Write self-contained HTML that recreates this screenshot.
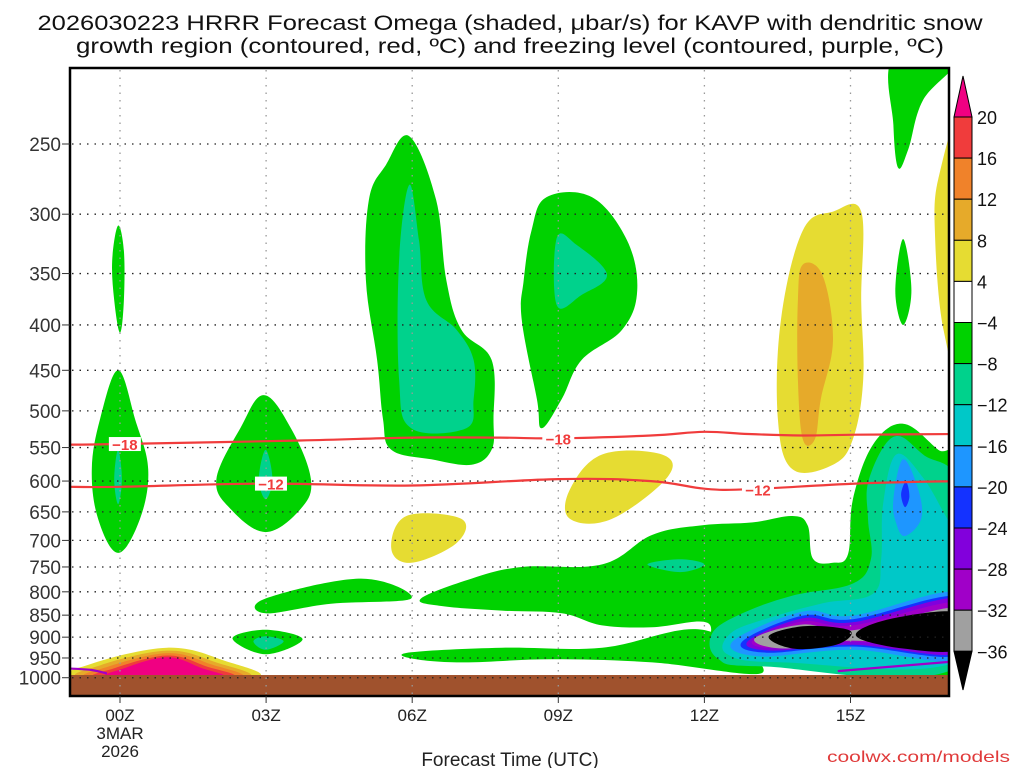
<!DOCTYPE html>
<html><head><meta charset="utf-8">
<style>
html,body{margin:0;padding:0;background:#fff;}
svg{display:block;font-family:"Liberation Sans",sans-serif;}
</style></head>
<body>
<svg id="chart" width="1024" height="768" viewBox="0 0 1024 768" xmlns="http://www.w3.org/2000/svg">
<text x="510" y="30" text-anchor="middle" font-size="21" fill="#111" textLength="945" lengthAdjust="spacingAndGlyphs">2026030223 HRRR Forecast Omega (shaded, μbar/s) for KAVP with dendritic snow</text>
<text x="510" y="53" text-anchor="middle" font-size="21" fill="#111" textLength="868" lengthAdjust="spacingAndGlyphs">growth region (contoured, red, ºC) and freezing level (contoured, purple, ºC)</text>
<defs><clipPath id="plotclip"><rect x="70" y="68" width="879" height="628"/></clipPath></defs>
<g id="shapes" clip-path="url(#plotclip)"></g>
<g id="grid"></g>
<g id="lines" clip-path="url(#plotclip)"></g>
<g id="axes"></g>
<g id="cbar"></g>
<text x="510" y="766" text-anchor="middle" font-size="19" fill="#222">Forecast Time (UTC)</text>
<text x="1010" y="762" text-anchor="end" font-size="16" fill="#e03a3a" textLength="183" lengthAdjust="spacingAndGlyphs">coolwx.com/models</text>
</svg>
<script>
// ---- data ----
const pressureTicks=[250,300,350,400,450,500,550,600,650,700,750,800,850,900,950,1000];
const hourTicks=[0,3,6,9,12,15];
const hourTickLabels=["00Z","03Z","06Z","09Z","12Z","15Z"];
const cbarLevels=[20,16,12,8,4,-4,-8,-12,-16,-20,-24,-28,-32,-36];
const cbarColors=["#f03c3c","#f0822a","#e6aa2a","#e6dc32","#ffffff","#00d200","#00d28c","#00c8c8","#1e96ff","#1432ff","#8200dc","#a000c8","#a0a0a0"];
const C={pink:"#f00082",red:"#f03c3c",orange:"#f0822a",dyel:"#e6aa2a",yel:"#e6dc32",green:"#00d200",teal:"#00d28c",cyan:"#00c8c8",blue:"#1e96ff",dblue:"#1432ff",purp:"#8200dc",purp2:"#a000c8",gray:"#a0a0a0",black:"#000000"};
// omega regions: [hour, hPa] vertices, drawn outer->inner
const regionColors=["green","green","green","green","green","green","green","green","green","green","green",
"teal","teal","teal","teal","teal","teal",
"yel","dyel","yel","yel","yel",
"teal","cyan","blue","dblue","blue","dblue","purp","purp2","gray","black","black",
"yel","dyel","orange","red","pink"];
const regionPoints=[
[[-0.04,309],[0.08,330],[0.08,375],[0,408],[-0.12,375],[-0.16,338]],
[[-0.04,450],[0.31,511],[0.58,582],[0.41,662],[-0.04,723],[-0.45,662],[-0.58,582],[-0.41,511]],
[[2.95,480],[3.51,523],[3.92,597],[3.71,645],[2.99,685],[2.27,645],[1.98,597],[2.47,523]],
[[5.94,245],[6.49,289],[6.70,356],[7.01,405],[7.63,438],[7.67,511],[7.63,553],[7.22,575],[6.39,567],[5.57,553],[5.40,511],[5.28,438],[5.05,356],[5.11,289],[5.46,264]],
[[8.76,287],[9.69,287],[10.41,321],[10.62,366],[10.31,405],[9.48,438],[9.07,485],[8.66,523],[8.56,485],[8.25,395],[8.29,356],[8.45,313]],
[[15.88,200],[17.2,200],[16.49,223],[16.19,253],[15.98,266],[15.88,238]],
[[16.08,320],[16.25,366],[16.08,400],[15.92,366]],
[[2.99,814],[4.95,773],[5.98,814],[4.33,825],[2.99,846]],
[[2.31,903],[2.99,883],[3.75,905],[2.99,941]],
[[6.18,814],[7.22,773],[8.25,750],[9.90,745],[10.93,690],[11.96,673],[12.99,668],[13.81,657],[14.12,673],[14.23,734],[14.64,742],[14.95,725],[15.05,629],[15.46,546],[16.08,517],[16.80,553],[17.3,582],[17.3,976],[15.05,972],[13.19,970],[12.37,956],[12.06,936],[12.06,867],[10.93,877],[9.90,873],[9.07,846],[7.84,840],[6.60,830]],
[[5.98,936],[7.84,925],[9.90,925],[11.96,883],[13.19,987],[10.93,961],[8.87,953],[7.01,961],[5.98,951]],
[[-0.04,553],[0.04,597],[-0.04,637],[-0.12,597]],
[[2.99,553],[3.13,597],[2.99,629],[2.85,597]],
[[5.94,278],[6.14,321],[6.29,375],[6.91,405],[7.26,438],[7.26,485],[7.11,523],[5.98,523],[5.73,461],[5.73,338]],
[[8.97,319],[9.38,325],[10.0,351],[9.48,370],[8.97,380]],
[[2.74,910],[2.99,898],[3.36,910],[2.99,930]],
[[10.83,745],[11.5,735],[12.0,745],[11.5,760]],
[[14.02,313],[14.64,298],[15.22,298],[15.22,375],[15.26,461],[15.05,538],[14.64,575],[13.81,582],[13.51,511],[13.57,395]],
[[14.02,342],[14.43,352],[14.64,416],[14.39,485],[14.27,538],[14.02,538],[13.92,461],[13.92,375]],
[[17.3,238],[17.3,451],[16.91,405],[16.74,321],[16.80,274]],
[[9.90,560],[11.13,560],[11.24,594],[10.10,662],[9.24,662],[9.24,613]],
[[5.88,657],[7.01,662],[6.91,705],[5.98,742],[5.57,715]],
[[15.38,597],[15.88,535],[16.49,560],[17.3,621],[17.3,963],[13.20,971],[12.27,951],[12.16,891],[12.78,846],[13.81,808],[15.05,783],[15.42,734],[15.36,662]],
[[15.67,637],[15.94,560],[16.49,595],[16.99,662],[17.3,700],[17.3,951],[13.61,961],[12.47,941],[12.54,891],[13.30,857],[14.43,824],[15.46,804],[15.63,734]],
[[15.88,629],[16.08,567],[16.39,613],[16.45,662],[16.12,692],[15.94,670]],
[[16.14,601],[16.21,624],[16.12,642],[16.04,621]],
[[12.58,910],[14.02,842],[15.05,851],[17.3,802],[17.3,951],[15.05,930],[13.13,946]],
[[12.78,910],[14.02,851],[15.05,859],[17.3,810],[17.3,941],[15.05,922],[13.28,937]],
[[12.89,910],[14.02,857],[15.05,866],[17.3,814],[17.3,937],[15.05,918],[13.40,932]],
[[12.99,908],[14.02,864],[15.05,873],[17.3,822],[17.3,930],[15.05,911],[13.51,927]],
[[13.03,903],[14.02,871],[15.05,884],[17.3,833],[17.3,927],[15.05,908],[13.61,927]],
[[13.32,898],[14.02,875],[14.85,880],[15.01,896],[14.64,920],[13.81,927]],
[[15.11,896],[15.88,857],[17.3,846],[17.3,927],[16.08,927]],
[[-0.87,1000],[-0.6,965],[0.97,925],[2.1,955],[2.72,1000]],
[[-0.7,1000],[-0.4,968],[0.97,932],[1.95,960],[2.55,1000]],
[[-0.55,1000],[-0.25,972],[0.97,938],[1.85,965],[2.4,1000]],
[[-0.4,1000],[-0.1,975],[0.97,944],[1.75,970],[2.25,1000]],
[[-0.2,1000],[0.1,975],[0.97,948],[1.65,974],[2.05,1000]]
];
const dgzHours=[-1.1,0,3.7,6,7.8,9,10.9,12,12.9,14,15.1,17.2];
const minus18Press=[546,545,540,536,536,537,533,528,531,533,532,531];
const minus12Hours=[-1.1,0,3,6,9,10.9,12,12.9,15.1,17.2];
const minus12Press=[609,609,604,607,597,600,612,613,604,600];
const frzHoursA=[-1.1,-0.6,-0.27];
const frzPressA=[976,980,989];
const frzHoursB=[14.74,16,17.2];
const frzPressB=[983,970,958];
const groundPress=993;

// ---- axes ----
const xs=h=>120+48.7*h;
const ys=p=>144+385*Math.log(p/250);
const NS="http://www.w3.org/2000/svg";
function mk(tag,attrs,parent){const e=document.createElementNS(NS,tag);for(const k in attrs)e.setAttribute(k,attrs[k]);parent.appendChild(e);return e;}
function smoothPath(pts,closed){
  const P=pts.map(q=>[xs(q[0]),ys(q[1])]);const n=P.length;let d="M"+P[0][0].toFixed(1)+","+P[0][1].toFixed(1);
  const last=closed?n:n-1;
  for(let i=0;i<last;i++){
    const p0=P[(i-1+n)%n],p1=P[i],p2=P[(i+1)%n],p3=P[(i+2)%n];
    const a0=closed||i>0?p0:p1, a3=closed||i+2<n?p3:p2;
    const t=0.18;
    const c1=[p1[0]+(p2[0]-a0[0])*t,p1[1]+(p2[1]-a0[1])*t];
    const c2=[p2[0]-(a3[0]-p1[0])*t,p2[1]-(a3[1]-p1[1])*t];
    d+="C"+c1[0].toFixed(1)+","+c1[1].toFixed(1)+" "+c2[0].toFixed(1)+","+c2[1].toFixed(1)+" "+p2[0].toFixed(1)+","+p2[1].toFixed(1);
  }
  return d+(closed?"Z":"");
}
const gS=document.getElementById("shapes");
regionPoints.forEach((pts,i)=>{
  const el=mk("path",{d:smoothPath(pts,true),fill:C[regionColors[i]]},gS);
  
  
});
const ground=mk("rect",{x:70,y:ys(groundPress),width:879,height:696-ys(groundPress),fill:"#a0522d"},gS);



// grid
const gG=document.getElementById("grid");
pressureTicks.forEach(p=>{
  const l=mk("line",{x1:72,x2:949,y1:ys(p),y2:ys(p),stroke:"#222","stroke-width":1.3,"stroke-dasharray":"1.5 6"},gG);
  
  
});
hourTicks.forEach(h=>{
  const l=mk("line",{x1:xs(h),x2:xs(h),y1:70,y2:696,stroke:"#999","stroke-width":1.3,"stroke-dasharray":"1.5 6"},gG);
  
  
});

// contour lines
const gL=document.getElementById("lines");
function line(hs,ps,color,name){
  const el=mk("path",{d:smoothPath(hs.map((h,i)=>[h,ps[i]]),false),fill:"none",stroke:color,"stroke-width":2.2},gL);
  
  
}
line(dgzHours,minus18Press,"#f03c3c","minus18-isotherm");
line(minus12Hours,minus12Press,"#f03c3c","minus12-isotherm");
line(frzHoursA,frzPressA,"#a000c8","freezing-level-left");
line(frzHoursB,frzPressB,"#a000c8","freezing-level-right");
function lab(h,p,t,name){
  const x=xs(h),y=ys(p);
  const r=mk("rect",{x:x-16,y:y-7,width:32,height:14,fill:"#fff"},gL);
  
  
  const tx=mk("text",{x:x,y:y+6,"text-anchor":"middle","font-size":15,"font-weight":"bold",fill:"#f03c3c"},gL);
  tx.textContent=t;
  
  
}
lab(0.1,545,"−18","minus18-label-left");
lab(9.0,537,"−18","minus18-label-right");
lab(3.1,604,"−12","minus12-label-left");
lab(13.1,613,"−12","minus12-label-right");

// axes
const gA=document.getElementById("axes");
const fr=mk("rect",{x:70,y:68,width:879,height:628,fill:"none",stroke:"#000","stroke-width":2.5},gA);


pressureTicks.forEach(p=>{
  const t=mk("line",{x1:62,x2:70,y1:ys(p),y2:ys(p),stroke:"#333","stroke-width":1},gA);
  
  
  const tx=mk("text",{x:61,y:ys(p)+7,"text-anchor":"end","font-size":19,fill:"#333"},gA);
  tx.textContent=p;
  
  
});
hourTicks.forEach((h,i)=>{
  const t=mk("line",{x1:xs(h),x2:xs(h),y1:696,y2:703,stroke:"#333","stroke-width":1},gA);
  
  
  const tx=mk("text",{x:xs(h),y:721,"text-anchor":"middle","font-size":17,fill:"#222"},gA);
  tx.textContent=hourTickLabels[i];
  
  
});
["3MAR","2026"].forEach((s,i)=>{
  const tx=mk("text",{x:xs(0),y:739+i*18,"text-anchor":"middle","font-size":17,fill:"#222"},gA);
  tx.textContent=s;
  
  
});

// colorbar
const gC=document.getElementById("cbar");
const cbTop=117,cbStep=41.1,cbX=954,cbW=18;
const tri=mk("path",{d:`M${cbX},${cbTop}L${cbX+cbW/2},76L${cbX+cbW},${cbTop}Z`,fill:C.pink,stroke:"#000","stroke-width":1},gC);


cbarColors.forEach((c,i)=>{
  const r=mk("rect",{x:cbX,y:cbTop+i*cbStep,width:cbW,height:cbStep,fill:c,stroke:"#000","stroke-width":1},gC);
  
  
});
const bot=cbTop+cbarColors.length*cbStep;
const tri2=mk("path",{d:`M${cbX},${bot}L${cbX+cbW/2},690L${cbX+cbW},${bot}Z`,fill:"#000",stroke:"#000","stroke-width":1},gC);


cbarLevels.forEach((v,i)=>{
  const tx=mk("text",{x:977,y:cbTop+i*cbStep+7,"font-size":18,fill:"#111"},gC);
  tx.textContent=v<0?"−"+(-v):String(v);
  
  
});
</script>
</body></html>
